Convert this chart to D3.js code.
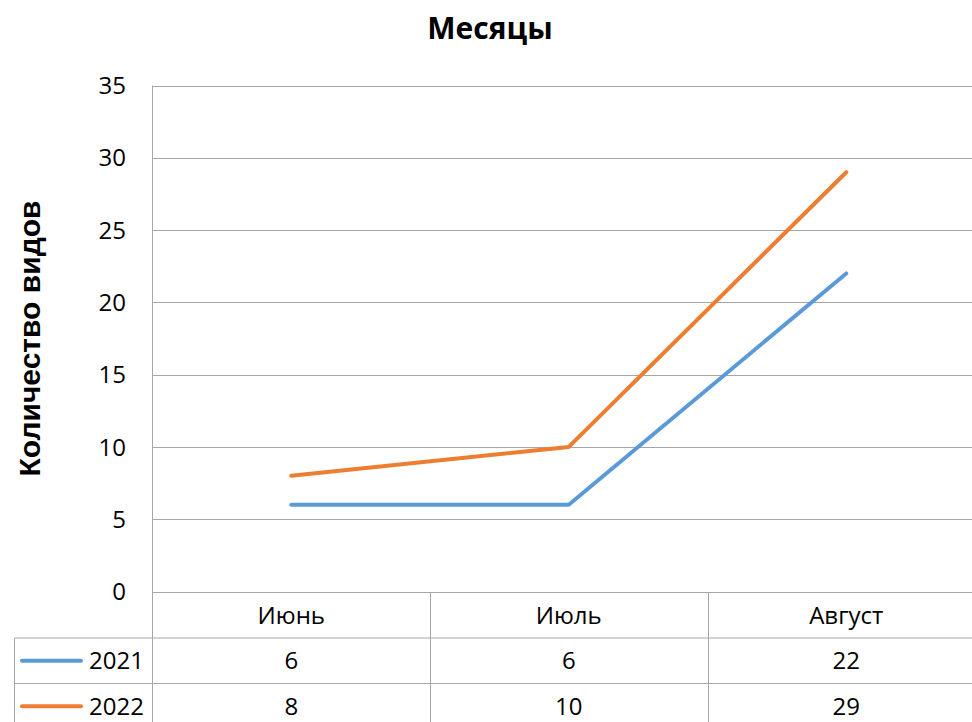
<!DOCTYPE html>
<html>
<head>
<meta charset="utf-8">
<script src="https://cdn.jsdelivr.net/npm/d3@7/dist/d3.min.js"></script>
<style>
  html, body { margin: 0; padding: 0; background: #ffffff; overflow: hidden; }
  svg { display: block; }
  text { font-family: "Open Sans", "Noto Sans", sans-serif; fill: #000; }
</style>
</head>
<body>
<svg id="chart" width="972" height="722"></svg>
<script>
// Chart data
const categories = ["Июнь", "Июль", "Август"];
const seriesNames = ["2021", "2022"];
const values2021 = [6, 6, 22];
const values2022 = [8, 10, 29];
const yTicks = [0, 5, 10, 15, 20, 25, 30, 35];
const titleText = "Месяцы";
const yAxisTitle = "Количество видов";

const series = [
  { name: seriesNames[0], values: values2021, color: "#5B9BD5" },
  { name: seriesNames[1], values: values2022, color: "#ED7D31" }
];

const svg = d3.select("#chart");
const gridColor = "#A6A6A6";

// Plot frame (the right side runs past the visible window)
const plotLeft = 152.5, plotRight = 985, plotTop = 85.5, plotBottom = 591.5;
const rowH = 45.5;

const x = d3.scaleBand().domain(categories).range([plotLeft, plotRight]).padding(0);
const y = d3.scaleLinear().domain([0, 35]).range([plotBottom, plotTop]);
const cx = c => x(c) + x.bandwidth() / 2;

// Horizontal gridlines
svg.append("g").selectAll("line").data(yTicks).join("line")
  .attr("x1", plotLeft).attr("x2", plotRight)
  .attr("y1", d => Math.round(y(d)) + 0.5).attr("y2", d => Math.round(y(d)) + 0.5)
  .attr("stroke", gridColor).attr("stroke-width", 1);

// Y tick labels
svg.append("g").selectAll("text").data(yTicks).join("text")
  .attr("x", 126).attr("y", d => y(d))
  .attr("dy", "0.36em")
  .attr("text-anchor", "end")
  .style("font-size", "24px")
  .text(d => d);

// Data table grid
const tableTop = Math.round(y(0)) + 0.5;
const row1 = tableTop + rowH;
const row2 = row1 + rowH;
const row3 = row2 + rowH;
const tableLeft = 14.5;
const tg = svg.append("g").attr("stroke", gridColor).attr("stroke-width", 1);
// vertical axis line through plot and table
tg.append("line").attr("x1", plotLeft).attr("x2", plotLeft).attr("y1", plotTop).attr("y2", row3);
// category column separators
categories.forEach(c => {
  const xr = Math.round(x(c) + x.bandwidth()) + 0.5;
  tg.append("line").attr("x1", xr).attr("x2", xr).attr("y1", tableTop).attr("y2", row3);
});
// series row lines
[row1, row2].forEach(r => {
  tg.append("line").attr("x1", tableLeft).attr("x2", plotRight).attr("y1", r).attr("y2", r);
});
tg.append("line").attr("x1", tableLeft).attr("x2", tableLeft).attr("y1", row1).attr("y2", row3);

// Category labels in header row
svg.append("g").selectAll("text").data(categories).join("text")
  .attr("x", d => cx(d)).attr("y", (tableTop + row1) / 2)
  .attr("dy", "0.36em").attr("text-anchor", "middle")
  .style("font-size", "24px")
  .text(d => d);

// Table rows: legend key, series name, values
series.forEach((s, i) => {
  const top = row1 + i * rowH;
  const mid = top + rowH / 2;
  svg.append("line")
    .attr("x1", 22).attr("x2", 81).attr("y1", mid).attr("y2", mid)
    .attr("stroke", s.color).attr("stroke-width", 4).attr("stroke-linecap", "round");
  svg.append("text")
    .attr("x", 144).attr("y", mid).attr("dy", "0.36em").attr("text-anchor", "end")
    .style("font-size", "24px").text(s.name);
  svg.append("g").selectAll("text").data(s.values).join("text")
    .attr("x", (d, j) => cx(categories[j])).attr("y", mid)
    .attr("dy", "0.36em").attr("text-anchor", "middle")
    .style("font-size", "24px").text(d => d);
});

// Series lines
const line = d3.line().x((d, j) => cx(categories[j])).y(d => y(d));
svg.append("g").selectAll("path").data(series).join("path")
  .attr("d", s => line(s.values))
  .attr("fill", "none")
  .attr("stroke", s => s.color)
  .attr("stroke-width", 4)
  .attr("stroke-linecap", "round")
  .attr("stroke-linejoin", "round");

// Chart title
svg.append("text")
  .attr("x", 490).attr("y", 39)
  .attr("text-anchor", "middle")
  .style("font-size", "30px").style("font-weight", "bold")
  .text(titleText);

// Y axis title
svg.append("text")
  .attr("transform", `translate(29, ${(plotTop + plotBottom) / 2}) rotate(-90)`)
  .attr("text-anchor", "middle").attr("dy", "0.36em")
  .style("font-family", "'Liberation Sans', Arial, sans-serif")
  .style("font-size", "30px").style("font-weight", "bold")
  .text(yAxisTitle);
</script>
</body>
</html>
